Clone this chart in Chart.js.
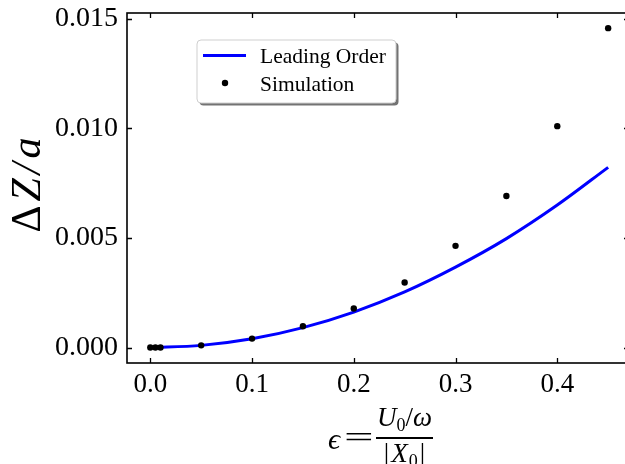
<!DOCTYPE html>
<html>
<head>
<meta charset="utf-8">
<script src="https://cdn.jsdelivr.net/npm/chart.js@4"></script>
<style>
  html, body { margin: 0; padding: 0; background: #fff; overflow: hidden; }
  #wrap { width: 640px; height: 464px; }
</style>
</head>
<body>
<div id="wrap"><canvas id="chart" width="640" height="464"></canvas></div>
<script>
// tick labels
const xTickValues = [0.0, 0.1, 0.2, 0.3, 0.4];
const yTickValues = [0.000, 0.005, 0.010, 0.015];

// axis limits
const xLimits = [-0.0229, 0.4705];
const yLimits = [-0.000704, 0.01526];

// leading order curve
const curveEps = [0, 0.05, 0.1, 0.15, 0.2, 0.25, 0.3, 0.35, 0.4, 0.45];
const curveDZ = [0, 0.0001, 0.0004, 0.00091, 0.00162, 0.00254, 0.00367, 0.00497, 0.0065, 0.00822];

// simulation points
const simEps = [0, 0.005, 0.01, 0.05, 0.1, 0.15, 0.2, 0.25, 0.3, 0.35, 0.4, 0.45];
const simDZ = [0, 0, 0, 0.0001, 0.00041, 0.00097, 0.00178, 0.00297, 0.00464, 0.00691, 0.0101, 0.01457];

const SERIF = '"Liberation Serif", "DejaVu Serif", serif';

const toPoints = (xs, ys) => xs.map((x, i) => ({ x: x, y: ys[i] }));

// keep the plot box exactly where the padding puts it
const noLabelPadding = s => {
  s.paddingTop = 0; s.paddingBottom = 0; s.paddingLeft = 0; s.paddingRight = 0;
};

// frame with inward ticks on all four sides
const framePlugin = {
  id: 'frame',
  afterDatasetsDraw(chart) {
    const ctx = chart.ctx;
    const a = chart.chartArea;
    const xs = chart.scales.x, ys = chart.scales.y;
    ctx.save();
    ctx.strokeStyle = '#000';
    ctx.lineWidth = 1.3;
    ctx.beginPath();
    xTickValues.forEach(v => {
      const px = Math.round(xs.getPixelForValue(v)) + 0.5;
      ctx.moveTo(px, a.bottom); ctx.lineTo(px, a.bottom - 5);
      ctx.moveTo(px, a.top); ctx.lineTo(px, a.top + 5);
    });
    yTickValues.forEach(v => {
      const py = Math.round(ys.getPixelForValue(v)) + 0.5;
      ctx.moveTo(a.left, py); ctx.lineTo(a.left + 5, py);
      ctx.moveTo(a.right, py); ctx.lineTo(a.right - 5, py);
    });
    ctx.stroke();
    ctx.lineWidth = 1.6;
    ctx.strokeRect(a.left, a.top, a.right - a.left, a.bottom - a.top);
    ctx.restore();
  }
};

// legend box inside the plot
const legendPlugin = {
  id: 'boxLegend',
  afterDraw(chart) {
    const ctx = chart.ctx;
    const bx = 197, by = 40, bw = 199, bh = 63, r = 4;
    ctx.save();
    const box = (x, y) => {
      ctx.beginPath();
      ctx.roundRect(x, y, bw, bh, r);
    };
    box(bx + 2.5, by + 2.5);
    ctx.fillStyle = 'rgba(0,0,0,0.55)';
    ctx.fill();
    box(bx, by);
    ctx.fillStyle = '#fff';
    ctx.fill();
    ctx.strokeStyle = '#cfcfcf';
    ctx.lineWidth = 1;
    ctx.stroke();

    const ds = chart.data.datasets;
    ctx.strokeStyle = ds[0].borderColor;
    ctx.lineWidth = 3;
    ctx.beginPath();
    ctx.moveTo(203, 55.5); ctx.lineTo(246, 55.5);
    ctx.stroke();

    ctx.fillStyle = '#000';
    ctx.beginPath();
    ctx.arc(225, 83, 3.2, 0, Math.PI * 2);
    ctx.fill();

    ctx.font = '21.5px ' + SERIF;
    ctx.textBaseline = 'alphabetic';
    ctx.fillText(ds[0].label, 260, 63);
    ctx.fillText(ds[1].label, 260, 91);
    ctx.restore();
  }
};

// axis titles (math style)
const titlesPlugin = {
  id: 'mathTitles',
  afterDraw(chart) {
    const ctx = chart.ctx;
    ctx.save();
    ctx.fillStyle = '#000';
    ctx.textBaseline = 'alphabetic';

    // y title: ΔZ/a, rotated
    ctx.save();
    ctx.translate(40, 183);
    ctx.rotate(-Math.PI / 2);
    ctx.letterSpacing = '4px';
    ctx.font = '42px ' + SERIF;
    const wD = ctx.measureText('Δ').width;
    ctx.font = 'italic 42px ' + SERIF;
    const wR = ctx.measureText('Z/a').width;
    let x0 = -(wD + wR) / 2;
    ctx.font = '42px ' + SERIF;
    ctx.fillText('Δ', x0, 0);
    ctx.font = 'italic 42px ' + SERIF;
    ctx.fillText('Z/a', x0 + wD, 0);
    ctx.restore();

    // x title: ϵ = (U0/ω) / |X0|
    ctx.font = 'italic 30px ' + SERIF;
    ctx.fillText('ϵ', 328, 449);
    ctx.save();
    ctx.translate(344, 447);
    ctx.scale(1.75, 1);
    ctx.font = '30px ' + SERIF;
    ctx.fillText('=', 0, 0);
    ctx.restore();

    const cx = 404.5;
    const big = 'italic 27px ' + SERIF, sub = '18px ' + SERIF, up = '27px ' + SERIF;
    const partsWidth = parts => parts.reduce((s, p) => { ctx.font = p[1]; return s + ctx.measureText(p[0]).width + (p[3] || 0); }, 0);
    const drawParts = (parts, base) => {
      let x = cx - partsWidth(parts) / 2;
      parts.forEach(p => {
        ctx.font = p[1];
        ctx.fillText(p[0], x, base + p[2]);
        x += ctx.measureText(p[0]).width + (p[3] || 0);
      });
    };
    // numerator
    drawParts([['U', big, 0], ['0', sub, 5], ['/', up, 0], ['ω', big, 0]], 426);
    ctx.fillRect(376, 437, 57, 2);
    // denominator
    drawParts([['|', up, 0, 2], ['X', big, 0, 1], ['0', sub, 5, 2], ['|', up, 0]], 462);
    ctx.restore();
  }
};

new Chart(document.getElementById('chart'), {
  type: 'scatter',
  data: {
    datasets: [
      {
        label: 'Leading Order',
        data: toPoints(curveEps, curveDZ),
        showLine: true,
        borderColor: '#0000ff',
        borderWidth: 3,
        pointRadius: 0,
        cubicInterpolationMode: 'monotone',
        order: 1
      },
      {
        label: 'Simulation',
        data: toPoints(simEps, simDZ),
        showLine: false,
        backgroundColor: '#000',
        borderWidth: 0,
        pointRadius: 3.2,
        order: 0
      }
    ]
  },
  options: {
    responsive: false,
    animation: false,
    devicePixelRatio: 1,
    layout: { autoPadding: false, padding: { top: 13, right: 11, left: 0, bottom: 0 } },
    plugins: {
      legend: { display: false },
      tooltip: { enabled: false }
    },
    scales: {
      x: {
        type: 'linear',
        min: xLimits[0],
        max: xLimits[1],
        grid: { display: false, drawTicks: false },
        border: { display: false },
        afterBuildTicks: s => { s.ticks = xTickValues.map(v => ({ value: v })); },
        afterFit: s => { s.height = 101; noLabelPadding(s); },
        ticks: {
          padding: 6,
          color: '#000',
          font: { family: SERIF, size: 27 },
          maxRotation: 0,
          callback: v => v.toFixed(1)
        }
      },
      y: {
        type: 'linear',
        min: yLimits[0],
        max: yLimits[1],
        grid: { display: false, drawTicks: false },
        border: { display: false },
        afterBuildTicks: s => { s.ticks = yTickValues.map(v => ({ value: v })); },
        afterFit: s => { s.width = 127; noLabelPadding(s); },
        ticks: {
          padding: 9,
          color: '#000',
          font: { family: SERIF, size: 28 },
          callback: v => v.toFixed(3)
        }
      }
    }
  },
  plugins: [framePlugin, legendPlugin, titlesPlugin]
});
</script>
</body>
</html>
